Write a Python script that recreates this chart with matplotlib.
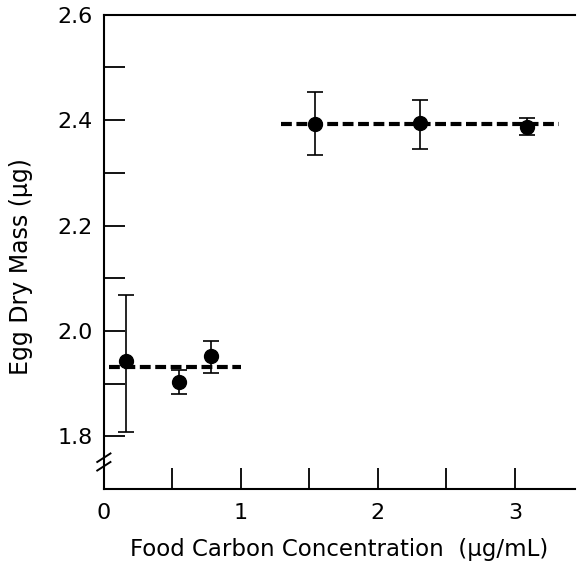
import matplotlib.pyplot as plt

plt.rcParams['font.family'] = ['DejaVu Sans']

# food carbon concentration (ug/mL) and egg dry mass (ug)
conc = [0.16, 0.55, 0.78, 1.54, 2.31, 3.09]
mass = [1.943, 1.903, 1.952, 2.392, 2.394, 2.387]
err_lo = [0.135, 0.023, 0.032, 0.059, 0.048, 0.016]
err_hi = [0.126, 0.023, 0.029, 0.061, 0.044, 0.017]

# the two group means
low_x = [0.04, 1.0]
low_y = [1.931, 1.931]
high_x = [1.29, 3.32]
high_y = [2.392, 2.392]

fig = plt.figure(figsize=(5.77, 5.66), dpi=100)
ax = fig.add_axes([0.180, 0.136, 0.817, 0.838])

ax.plot(low_x, low_y, color='black', lw=3, dashes=(2.6, 1.1))
ax.plot(high_x, high_y, color='black', lw=3, dashes=(2.6, 1.1))
ax.errorbar(conc, mass, yerr=[err_lo, err_hi], fmt='o', color='black',
            ms=10, elinewidth=1.2, capsize=6, capthick=1.2, zorder=3)

ax.set_xlim(0, 3.44)
ax.set_ylim(1.7, 2.6)
ax.set_xticks([0, 1, 2, 3])
ax.set_xticks([0.5, 1.5, 2.5], minor=True)
ax.set_yticks([1.8, 2.0, 2.2, 2.4, 2.6])
ax.set_yticks([1.9, 2.1, 2.3, 2.5], minor=True)
ax.set_xticklabels(['0', '1', '2', '3'])
ax.set_yticklabels(['1.8', '2.0', '2.2', '2.4', '2.6'])
ax.tick_params(which='both', direction='in', length=15, width=1.3,
               labelsize=16, pad=8)
ax.tick_params(axis='x', which='major', pad=10)

for s in ['left', 'bottom', 'top']:
    ax.spines[s].set_linewidth(1.5)
ax.spines['right'].set_visible(False)

# axis break marks
for dy in (-0.009, 0.009):
    ax.plot([-0.014, 0.014], [0.057 + dy - 0.009, 0.057 + dy + 0.009],
            transform=ax.transAxes, color='black', lw=1.4, clip_on=False)

ax.set_xlabel('Food Carbon Concentration  (μg/mL)', fontsize=16.5,
              labelpad=11)
ax.set_ylabel('Egg Dry Mass (μg)', fontsize=17)
ax.yaxis.set_label_coords(-0.15, 0.47)

fig.savefig('out.png', dpi=100)
